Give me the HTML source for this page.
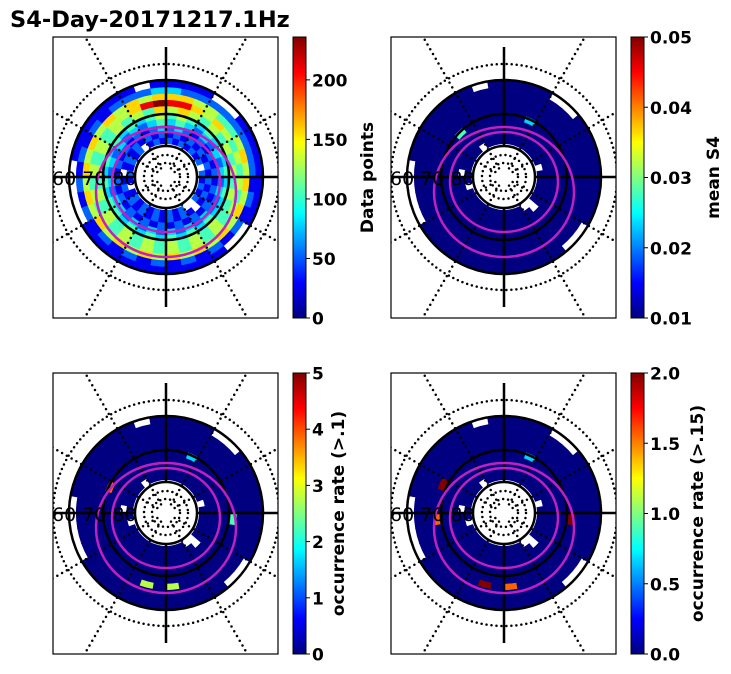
<!DOCTYPE html>
<html><head><meta charset="utf-8"><style>
body{margin:0;background:#fff;}
svg{display:block;font-family:"DejaVu Sans","Liberation Sans",sans-serif;}
</style></head><body>
<svg id="fig" width="731" height="674" viewBox="0 0 731 674">
<text x="10" y="27" font-size="22.5" font-weight="bold">S4-Day-20171217.1Hz</text>
</svg>
<script>
// Panel 1 data points (0-9 scale, '.' = no data), rings inner->outer, 36 sectors clockwise from top
const ringsP1 = [
"212121 2.2121 2..212 121212 1.1212 12.121",
"121212 121212 1.1212 121212 121.12 121212",
"232121 212121 212121 212121 212121 212123",
"343232 323232 232323 232323 323232 323234",
"454343 434343 343434 343434 434343 434345",
"565454 545454 454545 454545 454545 454546",
"886565 454545 454545 454545 454545 455689",
"665544 565656 565656 565656 565656 565656",
"322222 222121 212121 212121 212121 212223",
"111..1 111111 ..1111 111111 ....11 1111.1"
].map(s=>s.replace(/ /g,''));
// sparse highlights for other panels: [panel, ring, sector, level 0-9]
const hiP2 = [[1,4,2,3],[1,4,31,4]];
const hiP3 = [[2,4,2,3],[2,5,9,4],[2,6,17,5],[2,6,19,5],[2,4,29,7]];
const hiP4 = [[3,4,2,3],[3,5,9,9],[3,6,17,7],[3,6,19,9],[3,5,29,9],[3,5,26,7]];
const cbMax = [236, 0.05, 5, 2.0];
const cbMin = [0, 0.01, 0, 0];
const cbTicks = [[0,50,100,150,200],[0.01,0.02,0.03,0.04,0.05],[0,1,2,3,4,5],[0,0.5,1,1.5,2]];
const cbTickLabels = [["0","50","100","150","200"],["0.01","0.02","0.03","0.04","0.05"],["0","1","2","3","4","5"],["0.0","0.5","1.0","1.5","2.0"]];
const cbTitles = ["Data points","mean S4","occurrence rate (>.1)","occurrence rate (>.15)"];

const NS="http://www.w3.org/2000/svg";
const svg=document.getElementById('fig');
function el(t,a,p){const e=document.createElementNS(NS,t);for(const k in a)e.setAttribute(k,a[k]);(p||svg).appendChild(e);return e;}
function jet(t){t=Math.max(0,Math.min(1,t));const c=v=>Math.round(255*Math.max(0,Math.min(1,v)));
return `rgb(${c(1.5-Math.abs(4*t-3))},${c(1.5-Math.abs(4*t-2))},${c(1.5-Math.abs(4*t-1))})`;}
function pol(cx,cy,r,a){const t=a*Math.PI/180;return [cx+r*Math.sin(t),cy-r*Math.cos(t)];}
function sector(cx,cy,r0,r1,a0,a1){const p1=pol(cx,cy,r0,a0),p2=pol(cx,cy,r1,a0),p3=pol(cx,cy,r1,a1),p4=pol(cx,cy,r0,a1);
return `M${p1}L${p2}A${r1},${r1} 0 0 1 ${p3}L${p4}A${r0},${r0} 0 0 0 ${p1}Z`;}
const offs=[[0,0],[338,0],[0,336],[338,336]];
const titleX=[366,712,337,696];
const R0=33,R1=96,NR=ringsP1.length,NSEC=36;
const his=[[],hiP2,hiP3,hiP4];
offs.forEach((o,pi)=>{
  const bx=53+o[0],by=37+o[1],bw=225,bh=281,cx=bx+113,cy=by+140;
  const g=el('g',{});
  el('clipPath',{id:'cp'+pi},g).appendChild(el('rect',{x:bx,y:by,width:bw,height:bh},g));
  const cells=el('g',{},g);
  const hmap={};his[pi].forEach(h=>{hmap[h[1]+'_'+h[2]]=h[3];});
  ringsP1.forEach((row,ri)=>{
    for(let s=0;s<NSEC;s++){
      const ch=row[s];if(!ch||ch==='.')continue;
      let v=pi===0?(+ch)/9:0;
      if(pi>0&&hmap[ri+'_'+s]!==undefined)v=hmap[ri+'_'+s]/9;
      const r0=R0+ri*(R1-R0)/NR,r1=R0+(ri+1)*(R1-R0)/NR+0.4;
      const c=el('path',{d:sector(cx,cy,r0,r1,s*10,s*10+10.4),fill:jet(v)},cells);
      
      
    }
  });
  const grid=el('g',{'clip-path':`url(#cp${pi})`,},g);
  [113,14,22].forEach(r=>el('circle',{cx,cy,r,fill:'none',stroke:'#000','stroke-width':2.5,'stroke-dasharray':'0 5','stroke-linecap':'round'},grid));
  for(let a=0;a<360;a+=30){if(a%90===0)continue;const p0=pol(cx,cy,10,a),p1=pol(cx,cy,190,a);
    el('line',{x1:p0[0],y1:p0[1],x2:p1[0],y2:p1[1],stroke:'#000','stroke-width':2.5,'stroke-dasharray':'0 5.5','stroke-linecap':'round'},grid);}
  [31,63,97].forEach(r=>el('circle',{cx,cy,r,fill:'none',stroke:'#000','stroke-width':2.5},grid));
  for(let a=0;a<360;a+=90){const p0=pol(cx,cy,31,a),p1=pol(cx,cy,130,a);
    el('line',{x1:p0[0],y1:p0[1],x2:p1[0],y2:p1[1],stroke:'#000','stroke-width':2.5},grid);}
  el('ellipse',{cx,cy:cy+15,rx:70,ry:65,fill:'none',stroke:'#c020c0','stroke-width':2.5,},g);
  el('ellipse',{cx,cy:cy+5,rx:54,ry:50,fill:'none',stroke:'#c020c0','stroke-width':2.5,},g);
  const lab=el('text',{x:bx-1,y:cy+8,'font-size':19,fill:'#000',},g);lab.textContent='60 70 80';
  el('rect',{x:bx,y:by,width:bw,height:bh,fill:'none',stroke:'#000','stroke-width':1.2,},g);
  // colorbar
  const cbx=bx+240,cbw=13;
  const cb=el('g',{});
  const gid='jg'+pi;const lg=el('linearGradient',{id:gid,x1:0,y1:1,x2:0,y2:0},cb);
  for(let i=0;i<=8;i++)el('stop',{offset:i/8,'stop-color':jet(i/8)},lg);
  el('rect',{x:cbx,y:by,width:cbw,height:bh,fill:`url(#${gid})`,stroke:'#000','stroke-width':1},cb);
  const y=v=>by+bh-(v-cbMin[pi])/(cbMax[pi]-cbMin[pi])*bh;
  cbTicks[pi].forEach((t,i)=>{const yy=y(t);
    el('line',{x1:cbx+cbw,x2:cbx+cbw+4,y1:yy,y2:yy,stroke:'#000','stroke-width':1},cb);
    const tx=el('text',{x:cbx+cbw+6,y:yy+6.5,'font-size':17,'font-weight':'bold'},cb);tx.textContent=cbTickLabels[pi][i];
    
    });
  const tt=el('text',{x:0,y:0,'font-size':17,'font-weight':'bold','text-anchor':'middle',transform:`translate(${titleX[pi]+7},${by+bh/2}) rotate(-90)`},cb);
  tt.textContent=cbTitles[pi];
  
  
});
</script>
</body></html>
